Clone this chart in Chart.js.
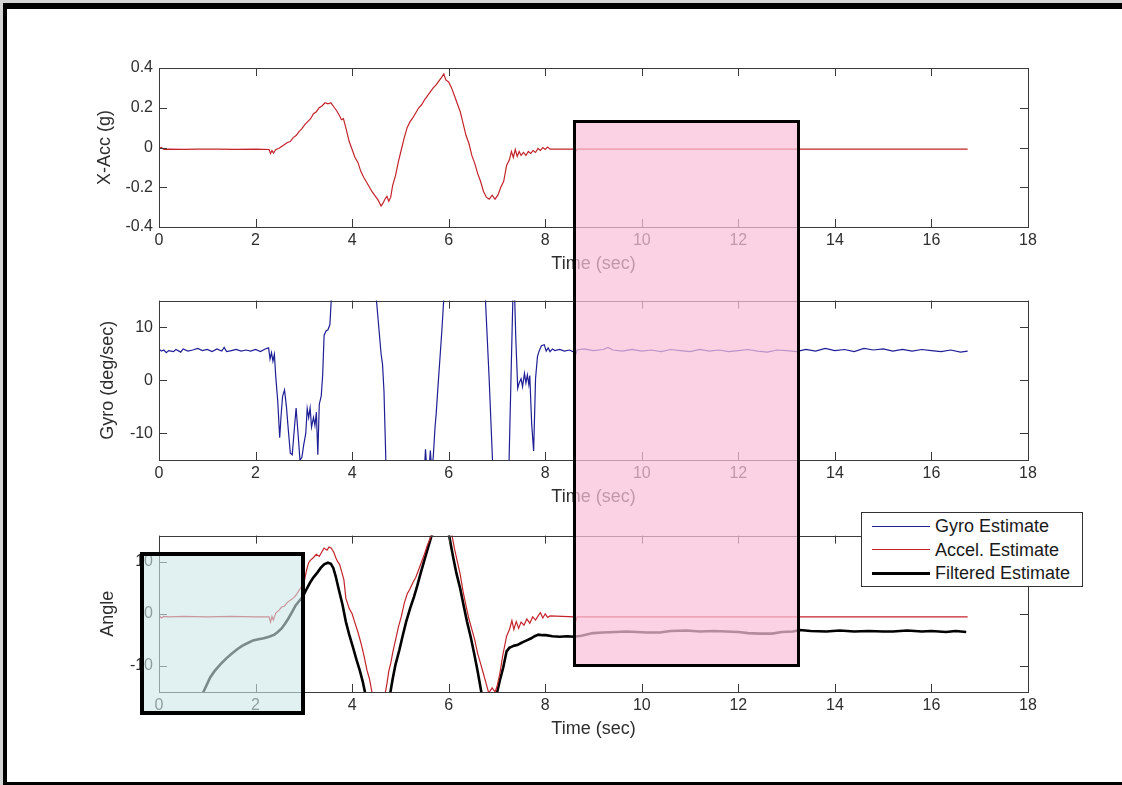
<!DOCTYPE html>
<html>
<head>
<meta charset="utf-8">
<script src="https://cdn.jsdelivr.net/npm/chart.js@4.4.0/dist/chart.umd.min.js"></script>
<style>
  html, body { margin: 0; padding: 0; background: #d4d4d4; overflow: hidden; width: 1122px; height: 785px; }
  #frame { position: absolute; left: 3px; top: 3px; width: 1119px; height: 782px; box-sizing: border-box;
           background: #fff; border-top: 6px solid #000; border-left: 4px solid #000; border-bottom: 3px solid #000; }
  canvas { position: absolute; left: 0; z-index: 1; }
  .overlay { position: absolute; box-sizing: border-box; z-index: 2; }
  #pink { left: 573px; top: 120px; width: 227px; height: 547px; border: 3px solid #000; background: rgba(250, 192, 218, 0.72); }
  #teal { left: 140px; top: 552px; width: 165px; height: 163px; border: 4px solid #000; background: rgba(205, 230, 232, 0.6); }
  #legend { position: absolute; left: 861px; top: 512px; width: 222px; height: 75px; box-sizing: border-box; z-index: 3;
            border: 1px solid #333; background: #fff; font: 18px 'Liberation Sans', Arial, sans-serif; color: #1a1a1a; }
  #legend .row { position: absolute; left: 0; width: 100%; height: 24px; }
  #legend .sample { position: absolute; left: 10px; width: 58px; }
  #legend .lbl { position: absolute; left: 73px; top: 0; line-height: 24px; white-space: nowrap; }
</style>
</head>
<body>
<div id="frame"></div>
<canvas id="accChart" width="1122" height="285" style="top:0px"></canvas>
<canvas id="gyroChart" width="1122" height="235" style="top:285px"></canvas>
<canvas id="angleChart" width="1122" height="265" style="top:520px"></canvas>
<div id="pink" class="overlay"></div>
<div id="teal" class="overlay"></div>
<div id="legend"></div>

<script>
// tick labels
const xTicks = [0, 2, 4, 6, 8, 10, 12, 14, 16, 18];
const accTicks = [-0.4, -0.2, 0, 0.2, 0.4];
const gyroTicks = [-10, 0, 10];
const angleTicks = [-10, 0, 10];

// X-Acc (g)
const accT = [
  0, 0.05, 0.1, 0.2, 0.5, 0.8, 1.2, 1.6, 2.0, 2.28,
  2.31, 2.34, 2.37, 2.42, 2.48, 2.54, 2.6, 2.66, 2.72, 2.78,
  2.84, 2.9, 2.96, 3.02, 3.08, 3.14, 3.2, 3.26, 3.32, 3.38,
  3.44, 3.5, 3.56, 3.62, 3.68, 3.74, 3.78, 3.82, 3.88, 3.94,
  4.0, 4.06, 4.12, 4.18, 4.24, 4.3, 4.36, 4.42, 4.48, 4.54,
  4.6, 4.64, 4.68, 4.72, 4.76, 4.8, 4.84, 4.9, 4.96, 5.02,
  5.08, 5.14, 5.2, 5.26, 5.32, 5.38, 5.44, 5.5, 5.56, 5.62,
  5.68, 5.74, 5.8, 5.86, 5.9, 5.94, 6.0, 6.06, 6.12, 6.18,
  6.24, 6.3, 6.36, 6.42, 6.48, 6.54, 6.6, 6.66, 6.72, 6.78,
  6.84, 6.9, 6.96, 7.02, 7.08, 7.14, 7.2, 7.26, 7.3, 7.34,
  7.38, 7.42, 7.46, 7.5, 7.55, 7.6, 7.65, 7.7, 7.75, 7.8,
  7.85, 7.9, 7.95, 8.0, 8.05, 8.1, 8.6, 8.63, 8.66, 12,
  16.75
];
const accV = [
  -0.005, 0.0, -0.01, -0.008, -0.009, -0.008, -0.008, -0.009, -0.008, -0.01,
  -0.03, -0.015, -0.028, -0.01, -0.005, 0.005, 0.015, 0.025, 0.03, 0.05,
  0.06, 0.08, 0.095, 0.115, 0.13, 0.145, 0.17, 0.18, 0.2, 0.21,
  0.225, 0.22, 0.225, 0.205, 0.185, 0.16, 0.14, 0.145, 0.09, 0.03,
  -0.01, -0.05, -0.075, -0.12, -0.15, -0.175, -0.2, -0.225, -0.245, -0.265,
  -0.295, -0.28, -0.26, -0.245, -0.27, -0.25, -0.19, -0.14, -0.07, -0.01,
  0.05, 0.1, 0.13, 0.15, 0.175, 0.2, 0.215, 0.24, 0.26, 0.28,
  0.3, 0.315, 0.335, 0.355, 0.37, 0.34, 0.33, 0.3, 0.26, 0.22,
  0.18, 0.12, 0.06, 0.02, -0.04, -0.08, -0.13, -0.17, -0.22, -0.25,
  -0.26, -0.24, -0.26, -0.24, -0.2, -0.17, -0.09, -0.06, -0.02, -0.05,
  -0.01, -0.045, -0.02, -0.04, -0.025, -0.04, -0.02, -0.03, -0.015, -0.025,
  -0.005, -0.015, 0.0, -0.01, 0.002, -0.008, -0.008, -0.02, -0.008, -0.008,
  -0.008
];

// Gyro (deg/sec)
const gyroT = [
  0, 0.05, 0.1, 0.15, 0.2, 0.3, 0.35, 0.45, 0.5, 0.6,
  0.7, 0.8, 0.9, 1.0, 1.1, 1.2, 1.3, 1.35, 1.4, 1.5,
  1.6, 1.7, 1.8, 1.9, 2.0, 2.1, 2.2, 2.27, 2.3, 2.33,
  2.36, 2.39, 2.42, 2.46, 2.5, 2.53, 2.56, 2.6, 2.64, 2.68,
  2.72, 2.76, 2.8, 2.84, 2.88, 2.92, 2.96, 3.0, 3.04, 3.07,
  3.1, 3.13, 3.16, 3.2, 3.23, 3.26, 3.29, 3.32, 3.36, 3.39,
  3.42, 3.46, 3.5, 3.54, 3.57, 3.6, 3.8, 4.0, 4.2, 4.4,
  4.5, 4.6, 4.63, 4.66, 4.7, 4.8, 5.0, 5.3, 5.5, 5.52,
  5.55, 5.6, 5.62, 5.65, 5.68, 5.72, 5.74, 5.78, 5.82, 5.86,
  5.9, 6.1, 6.4, 6.6, 6.76, 6.84, 6.91, 7.05, 7.2, 7.25,
  7.29, 7.33, 7.36, 7.39, 7.43, 7.46, 7.5, 7.53, 7.57, 7.6,
  7.63, 7.66, 7.68, 7.72, 7.76, 7.8, 7.84, 7.87, 7.92, 7.98,
  8.02, 8.06, 8.1, 8.15, 8.2, 8.3, 8.4, 8.5, 8.6, 8.62,
  8.66, 8.8, 9.0, 9.2, 9.3, 9.4, 9.6, 9.8, 10.0, 10.2,
  10.4, 10.6, 10.8, 11.0, 11.2, 11.4, 11.6, 11.8, 12.0, 12.2,
  12.4, 12.6, 12.8, 13.0, 13.2, 13.4, 13.6, 13.8, 14.0, 14.2,
  14.4, 14.6, 14.8, 15.0, 15.2, 15.4, 15.6, 15.8, 16.0, 16.2,
  16.4, 16.6, 16.75
];
const gyroV = [
  5.9, 5.5, 5.7, 5.2, 5.6, 5.4, 5.8, 5.3, 5.9, 5.5,
  5.7, 6.0, 5.6, 5.8, 5.4, 5.9, 5.5, 6.2, 5.4, 5.6,
  5.8, 5.5, 5.7, 5.5, 5.8, 5.4, 5.9, 6.1, 4.0, 5.2,
  3.6, 4.9, 0.5, -4.0, -10.8, -6.5, -3.0, -1.8, -5.0, -9.5,
  -13.7, -14.0, -9.5, -5.2, -10.0, -15.0, -14.5, -12.0, -10.0, -5.3,
  -7.0, -5.2, -8.8, -7.0, -8.5, -6.0, -14.0, -4.5, -3.0, 1.0,
  8.5, 9.3, 9.5, 10.5, 15.5, 20, 32, 38, 35, 24,
  15.5, 5.0, 3.0, -2, -15.5, -26, -36, -28, -16.5, -13.0,
  -17, -16, -13.2, -17, -14.5, -8.5, -6.5, -1, 4.2, 9.5,
  15.5, 32, 40, 30, 15.5, 0, -15.5, -32, -22, -15.5,
  0, 15.5, 18, 8, -1.5, -0.5, 0.3, -1.2, 1.3, -0.5,
  1.0, -0.8, 0.9, -8.3, -13.3, 0.4, 4.5, 5.4, 6.5, 6.7,
  5.5, 6.1, 5.4, 5.9, 5.6, 5.8, 5.5, 5.7, 5.3, 4.5,
  5.7, 5.9, 5.6, 5.8, 6.2, 5.7, 5.5, 5.8, 5.5, 5.7,
  5.4, 5.8, 5.6, 5.4, 5.8, 5.5, 5.7, 5.4, 5.6, 5.8,
  5.5, 5.3, 5.7, 5.6, 5.4, 5.8, 5.5, 6.0, 5.6, 5.8,
  5.4, 6.0, 5.7, 5.9, 5.5, 5.8, 5.5, 5.8, 5.6, 5.4,
  5.7, 5.3, 5.5
];

// Angle: accelerometer estimate
const accelAngT = [
  0, 0.05, 0.1, 0.2, 0.5, 1.0, 1.5, 2.0, 2.28, 2.31,
  2.34, 2.37, 2.42, 2.48, 2.54, 2.6, 2.66, 2.72, 2.78, 2.84,
  2.9, 2.96, 3.0, 3.06, 3.1, 3.14, 3.2, 3.26, 3.32, 3.38,
  3.42, 3.48, 3.52, 3.57, 3.62, 3.66, 3.7, 3.74, 3.79, 3.83,
  3.87, 3.94, 4.0, 4.06, 4.12, 4.18, 4.24, 4.31, 4.36, 4.42,
  4.55, 4.68, 4.72, 4.76, 4.8, 4.84, 4.9, 4.96, 5.02, 5.08,
  5.14, 5.2, 5.26, 5.32, 5.38, 5.44, 5.5, 5.56, 5.62, 5.66,
  5.9, 6.06, 6.12, 6.18, 6.24, 6.3, 6.36, 6.42, 6.48, 6.54,
  6.6, 6.66, 6.72, 6.78, 6.83, 6.9, 6.96, 7.0, 7.06, 7.12,
  7.2, 7.26, 7.31, 7.35, 7.4, 7.45, 7.5, 7.56, 7.62, 7.68,
  7.74, 7.8, 7.86, 7.9, 7.95, 8.0, 8.05, 8.1, 8.6, 8.63,
  8.66, 12, 16.75
];
const accelAngV = [
  -0.3, -0.8, -0.5, -0.6, -0.5, -0.6, -0.5, -0.6, -0.6, -1.6,
  -0.5, -1.2, 0.2, 0.6, 1.3, 1.5, 2.2, 2.6, 3.0, 3.6,
  4.5, 5.3, 5.8, 8.5, 9.8, 10.3, 10.8, 11.4, 11.0, 12.0,
  12.6, 12.2, 12.8, 12.6, 11.8, 10.8, 10.0, 9.5, 7.9, 6.5,
  3.0, 1.0, 0, -1.8, -3.5, -5.5, -7.8, -10.9, -12.5, -15.5,
  -17, -15.5, -13.5, -11, -9.5, -7.5, -5.0, -2.5, -0.5, 2.0,
  3.8, 4.8, 6.0, 7.0, 8.5, 10.0, 11.5, 13.2, 14.5, 15.5,
  21, 15.5, 12.5, 10.0, 7.5, 4.2, 1.5, -1.0, -3.0, -5.0,
  -7.6, -9.5, -11.5, -13.5, -15.2, -14.2, -15.0, -14.0, -11.5, -8.0,
  -4.3, -3.0, -1.3, -3.0, -1.5, -2.8, -1.6, -2.2, -1.0, -1.8,
  -0.6, -1.2, -0.3, 0.2, -0.8, 0.0, -0.7, -0.4, -0.6, -1.5,
  -0.6, -0.6, -0.6
];

// Angle: filtered estimate
const filtT = [
  0, 0.5, 0.91, 1.06, 1.15, 1.28, 1.4, 1.51, 1.62, 1.73,
  1.84, 1.95, 2.06, 2.17, 2.28, 2.39, 2.46, 2.54, 2.61, 2.68,
  2.76, 2.83, 2.9, 2.98, 3.06, 3.13, 3.2, 3.28, 3.35, 3.42,
  3.5, 3.56, 3.61, 3.66, 3.72, 3.8, 3.87, 3.94, 4.02, 4.09,
  4.16, 4.22, 4.27, 4.5, 4.79, 4.84, 4.9, 4.98, 5.05, 5.12,
  5.2, 5.28, 5.35, 5.42, 5.5, 5.57, 5.64, 5.68, 5.85, 6.0,
  6.05, 6.09, 6.16, 6.24, 6.31, 6.38, 6.46, 6.53, 6.6, 6.68,
  6.85, 7.0, 7.06, 7.13, 7.2, 7.26, 7.31, 7.36, 7.42, 7.5,
  7.57, 7.64, 7.71, 7.78, 7.86, 7.94, 8.01, 8.15, 8.3, 8.45,
  8.6, 8.75, 8.99, 9.2, 9.45, 9.68, 9.9, 10.1, 10.37, 10.6,
  10.92, 11.2, 11.5, 11.75, 12.0, 12.2, 12.44, 12.7, 12.9, 13.13,
  13.27, 13.5, 13.82, 14.1, 14.4, 14.7, 15.0, 15.2, 15.5, 15.8,
  16.0, 16.3, 16.5, 16.72
];
const filtV = [
  -28, -21, -15.2, -12.2, -11.0, -9.6, -8.5, -7.6, -6.8, -6.1,
  -5.6, -5.1, -4.9, -4.7, -4.4, -4.0, -3.5, -2.8, -1.9, -0.9,
  0.4, 1.6, 2.4, 3.3, 4.8, 6.0, 7.0, 7.9, 8.8, 9.5,
  9.8, 9.6, 8.8, 7.2, 4.8, 1.8, -1.5, -4.0, -6.5, -8.8,
  -10.9, -13.0, -15.2, -21, -15.2, -12.5, -9.7, -6.9, -4.1, -1.5,
  1.0, 3.2, 5.4, 7.8, 10.4, 12.6, 14.8, 15.5, 20, 15.5,
  13.0, 11.0, 7.8, 4.8, 1.6, -1.5, -4.6, -7.7, -11.0, -15.2,
  -19, -15.2, -12.8, -10.3, -7.2, -6.5, -6.3, -6.1, -6.0, -5.6,
  -5.3, -5.0, -4.7, -4.3, -4.0, -4.1, -4.1, -4.3, -4.4, -4.3,
  -4.4, -4.2, -3.7, -3.6, -3.5, -3.4, -3.5, -3.6, -3.6, -3.3,
  -3.2, -3.4, -3.3, -3.4, -3.5, -3.7, -3.8, -3.8, -3.5, -3.4,
  -3.1, -3.3, -3.4, -3.2, -3.4, -3.3, -3.4, -3.4, -3.2, -3.4,
  -3.3, -3.5, -3.3, -3.5
];

const RED = '#c4232b';
const BLUE = '#1e1e96';
const TEXT = '#2e2e2e';
const tickFont = { family: "'Liberation Sans', Arial, sans-serif", size: 16 };
const titleFont = { family: "'Liberation Sans', Arial, sans-serif", size: 18 };

const pts = (ts, vs) => ts.map((t, i) => ({ x: t, y: vs[i] }));
const fmt = v => (v === 0 ? '0' : String(+v.toFixed(1)));

// MATLAB style box with inward ticks on all four sides
const boxAxes = {
  id: 'boxAxes',
  afterDatasetsDraw(chart) {
    const { ctx, chartArea: a, scales: { x, y } } = chart;
    ctx.save();
    ctx.strokeStyle = '#3a3a3a';
    ctx.lineWidth = 1;
    ctx.beginPath();
    x.ticks.forEach(t => {
      const px = Math.round(x.getPixelForValue(t.value)) + 0.5;
      ctx.moveTo(px, a.bottom); ctx.lineTo(px, a.bottom - 8);
      ctx.moveTo(px, a.top); ctx.lineTo(px, a.top + 8);
    });
    y.ticks.forEach(t => {
      const py = Math.round(y.getPixelForValue(t.value)) + 0.5;
      ctx.moveTo(a.left, py); ctx.lineTo(a.left + 8, py);
      ctx.moveTo(a.right, py); ctx.lineTo(a.right - 8, py);
    });
    ctx.stroke();
    ctx.strokeRect(Math.round(a.left) + 0.5, Math.round(a.top) + 0.5, Math.round(a.width), Math.round(a.height));
    ctx.restore();
  }
};

function makePlot(id, o) {
  return new Chart(document.getElementById(id), {
    type: 'line',
    data: { datasets: o.datasets },
    options: {
      responsive: false,
      animation: false,
      devicePixelRatio: 1,
      layout: { padding: { left: 0, right: 94, top: o.top, bottom: o.bottom } },
      plugins: { legend: { display: false }, tooltip: { enabled: false } },
      elements: { point: { radius: 0 }, line: { tension: 0 } },
      scales: {
        x: {
          type: 'linear', min: 0, max: 18,
          grid: { display: false, drawTicks: false },
          border: { display: false },
          afterBuildTicks: s => { s.ticks = xTicks.map(v => ({ value: v })); },
          afterFit: s => { s.height = 50; },
          ticks: { padding: 4, font: tickFont, color: TEXT, maxRotation: 0, autoSkip: false, callback: fmt },
          title: { display: true, text: 'Time (sec)', font: titleFont, color: TEXT, padding: { top: 0, bottom: 2 } }
        },
        y: {
          min: o.yMin, max: o.yMax,
          grid: { display: false, drawTicks: false },
          border: { display: false },
          afterBuildTicks: s => { s.ticks = o.yTicks.map(v => ({ value: v })); },
          afterFit: s => { s.width = 159; },
          ticks: { padding: 6, font: tickFont, color: TEXT, autoSkip: false, callback: fmt },
          title: { display: true, text: o.yTitle, font: titleFont, color: TEXT, padding: { top: o.yTitleX - 10.8, bottom: 0 } }
        }
      }
    },
    plugins: [boxAxes]
  });
}

makePlot('accChart', {
  top: 68, bottom: 8, yMin: -0.4, yMax: 0.4, yTicks: accTicks, yTitle: 'X-Acc (g)', yTitleX: 105,
  datasets: [{ label: 'X-Acc', data: pts(accT, accV), borderColor: RED, borderWidth: 1.2 }]
});

makePlot('gyroChart', {
  top: 15, bottom: 10, yMin: -15, yMax: 15, yTicks: gyroTicks, yTitle: 'Gyro (deg/sec)', yTitleX: 108,
  datasets: [{ label: 'Gyro', data: pts(gyroT, gyroV), borderColor: BLUE, borderWidth: 1.2 }]
});

const angleChart = makePlot('angleChart', {
  top: 13, bottom: 43, yMin: -15, yMax: 15, yTicks: angleTicks, yTitle: 'Angle', yTitleX: 108,
  datasets: [
    { label: 'Gyro Estimate', data: [], borderColor: BLUE, borderWidth: 1 },
    { label: 'Accel. Estimate', data: pts(accelAngT, accelAngV), borderColor: RED, borderWidth: 1.2 },
    { label: 'Filtered Estimate', data: pts(filtT, filtV), borderColor: '#000', borderWidth: 2.6 }
  ]
});

// legend box like MATLAB's, built from the datasets
const legendEl = document.getElementById('legend');
angleChart.data.datasets.forEach((ds, i) => {
  const row = document.createElement('div');
  row.className = 'row';
  row.style.top = (1 + i * 23.5) + 'px';
  const bw = ds.borderWidth < 2 ? 1 : 3;
  row.innerHTML = '<div class="sample" style="top:' + (12 - bw / 2) + 'px;height:' + bw + 'px;background:' + ds.borderColor + '"></div>' +
                  '<span class="lbl">' + ds.label + '</span>';
  legendEl.appendChild(row);
});
</script>
</body>
</html>
